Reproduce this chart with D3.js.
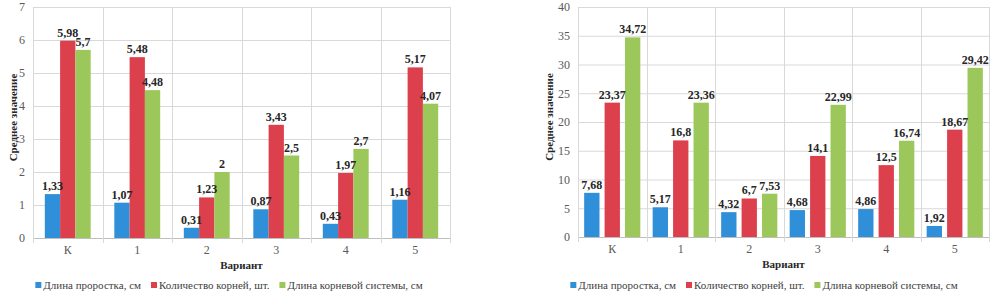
<!DOCTYPE html>
<html>
<head>
    <meta charset="utf-8">
    <title>GroupedBars</title>
    <script src="https://cdn.jsdelivr.net/npm/d3@7/dist/d3.min.js"></script>
</head>
<body style="margin: 0; background: #fff;">
    <svg width="993" height="296" id="mainsvg"></svg>
    <script>
        const variants = ['К', '1', '2', '3', '4', '5'];
        const seriesNames = ['Длина проростка, см', 'Количество корней, шт.', 'Длина корневой системы, см'];
        const colors = ['#2f8fd8', '#dc404d', '#9cc85b'];

        // left chart
        const leftSprout = [1.33, 1.07, 0.31, 0.87, 0.43, 1.16];
        const leftRoots = [5.98, 5.48, 1.23, 3.43, 1.97, 5.17];
        const leftRootLen = [5.7, 4.48, 2, 2.5, 2.7, 4.07];
        const leftTicks = [0, 1, 2, 3, 4, 5, 6, 7];

        // right chart
        const rightSprout = [7.68, 5.17, 4.32, 4.68, 4.86, 1.92];
        const rightRoots = [23.37, 16.8, 6.7, 14.1, 12.5, 18.67];
        const rightRootLen = [34.72, 23.36, 7.53, 22.99, 16.74, 29.42];
        const rightTicks = [0, 5, 10, 15, 20, 25, 30, 35, 40];

        const yAxisLabel = 'Среднее значение';
        const xAxisLabel = 'Вариант';
        const FONT = 'Liberation Serif';

        const svg = d3.select('#mainsvg');
        const fmt = v => String(v).replace('.', ',');

        const drawChart = function (opt) {
            const g = svg.append('g')
                .attr('transform', `translate(${opt.left}, ${opt.top})`);
            const innerWidth = opt.right - opt.left;
            const innerHeight = opt.bottom - opt.top;

            const yScale = d3.scaleLinear()
                .domain([0, d3.max(opt.ticks)])
                .range([innerHeight, 0]);
            const x0 = d3.scaleBand()
                .domain(variants)
                .range([0, innerWidth])
                .paddingInner(opt.groupPad)
                .paddingOuter(opt.groupPad / 2);
            const x1 = d3.scaleBand()
                .domain(d3.range(3))
                .range([0, x0.bandwidth()])
                .paddingInner(opt.barPad);
            const step = x0.step();

            // grid
            g.selectAll('.hgrid').data(opt.ticks).join('line')
                .attr('x1', 0).attr('x2', innerWidth)
                .attr('y1', d => yScale(d) + 0.5).attr('y2', d => yScale(d) + 0.5)
                .attr('stroke', d => d === 0 ? '#bfbfbf' : '#d9d9d9');
            g.selectAll('.vgrid').data(d3.range(variants.length + 1)).join('line')
                .attr('x1', i => Math.round(i * step) + 0.5).attr('x2', i => Math.round(i * step) + 0.5)
                .attr('y1', 0).attr('y2', innerHeight + 5)
                .attr('stroke', '#d9d9d9');

            // y axis
            const yAxis = d3.axisLeft(yScale)
                .tickValues(opt.ticks)
                .tickFormat(d3.format('d'))
                .tickSize(0)
                .tickPadding(8);
            const yAxisGroup = g.append('g').call(yAxis).attr('font-family', FONT);
            yAxisGroup.select('.domain').remove();
            yAxisGroup.selectAll('text')
                .attr('font-family', FONT)
                .attr('font-size', '12px')
                .attr('fill', '#595959');

            // x axis
            const xAxis = d3.axisBottom(x0).tickSize(0).tickPadding(7);
            const xAxisGroup = g.append('g')
                .attr('transform', `translate(0, ${innerHeight})`)
                .call(xAxis)
                .attr('font-family', FONT);
            xAxisGroup.select('.domain').remove();
            xAxisGroup.selectAll('text')
                .attr('font-family', FONT)
                .attr('font-size', '12px')
                .attr('fill', '#595959');

            // bars
            const rows = variants.map((v, i) => ({ v: v, vals: opt.series.map(s => s[i]) }));
            const groups = g.selectAll('.datagroup').data(rows).join('g')
                .attr('transform', d => `translate(${x0(d.v)}, 0)`);
            groups.selectAll('rect').data(d => d.vals).join('rect')
                .attr('x', (d, i) => x1(i))
                .attr('y', d => yScale(d))
                .attr('width', x1.bandwidth())
                .attr('height', d => innerHeight - yScale(d))
                .attr('fill', (d, i) => colors[i]);
            groups.selectAll('text').data(d => d.vals).join('text')
                .attr('x', (d, i) => x1(i) + x1.bandwidth() / 2)
                .attr('y', d => yScale(d) - 4)
                .attr('text-anchor', 'middle')
                .attr('font-family', FONT)
                .attr('font-size', '12px')
                .attr('font-weight', 'bold')
                .attr('fill', '#262626')
                .text(d => fmt(d));

            // titles
            g.append('text')
                .attr('transform', 'rotate(-90)')
                .attr('x', -innerHeight / 2 + 5)
                .attr('y', -opt.yTitleOff)
                .attr('text-anchor', 'middle')
                .attr('font-family', FONT)
                .attr('font-size', '11px')
                .attr('font-weight', 'bold')
                .attr('fill', '#262626')
                .text(yAxisLabel);
            g.append('text')
                .attr('x', innerWidth / 2)
                .attr('y', innerHeight + 31)
                .attr('text-anchor', 'middle')
                .attr('font-family', FONT)
                .attr('font-size', '11px')
                .attr('font-weight', 'bold')
                .attr('fill', '#262626')
                .text(xAxisLabel);

            // legend
            const lg = svg.append('g');
            let lx = 0;
            seriesNames.forEach((name, i) => {
                const item = lg.append('g').attr('transform', `translate(${lx}, 0)`);
                item.append('rect')
                    .attr('x', 0).attr('y', -7)
                    .attr('width', 6).attr('height', 6)
                    .attr('fill', colors[i]);
                const t = item.append('text')
                    .attr('x', 8).attr('y', 0)
                    .attr('font-family', FONT)
                    .attr('font-size', '11px')
                    .attr('fill', '#404040')
                    .text(name);
                lx += 8 + t.node().getComputedTextLength() + 10;
            });
            const lw = lx - 10;
            lg.attr('transform', `translate(${opt.legendCenter - lw / 2}, 289)`);
        };

        drawChart({
            left: 33, right: 450, top: 7, bottom: 238,
            ticks: leftTicks,
            series: [leftSprout, leftRoots, leftRootLen],
            groupPad: 0.34, barPad: 0,
            yTitleOff: 16,
            legendCenter: 229
        });

        drawChart({
            left: 578, right: 989, top: 7, bottom: 237,
            ticks: rightTicks,
            series: [rightSprout, rightRoots, rightRootLen],
            groupPad: 0.18, barPad: 0.25,
            yTitleOff: 25,
            legendCenter: 764
        });
    </script>
</body>
</html>
